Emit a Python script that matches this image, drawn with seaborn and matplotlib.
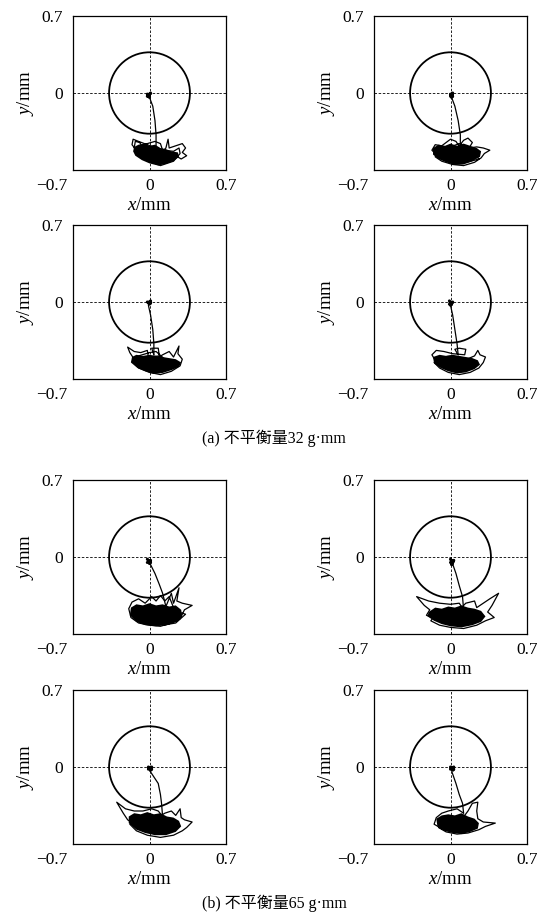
import matplotlib
matplotlib.use("Agg")
import matplotlib.pyplot as plt
from matplotlib.patches import Circle
from matplotlib.transforms import ScaledTranslation
import seaborn as sns
import pandas as pd

# ---------------- data ----------------
limit = 0.7
x_tick_values = [-0.7, 0, 0.7]
x_tick_labels = ["\u22120.7", "0", "0.7"]
y_tick_values = [-0.7, 0, 0.7]
y_tick_labels = ["", "0", "0.7"]
clearance_radius = 0.37

captions = ["(a) 不平衡量32 g·mm", "(b) 不平衡量65 g·mm"]

# start points (small blob near the centre)
dot_a1_x = [-0.02, 0.0, -0.01, 0.01, -0.02]
dot_a1_y = [-0.01, -0.04, -0.03, 0.0, -0.03]
dot_a2_x = [0.0, 0.02, 0.01, 0.02, 0.0]
dot_a2_y = [-0.01, -0.03, -0.04, 0.0, -0.03]
dot_a3_x = [-0.02, 0.01, 0.0, 0.01, -0.01]
dot_a3_y = [0.0, -0.01, -0.02, 0.01, -0.01]
dot_a4_x = [-0.01, 0.01, 0.0, 0.02, -0.01]
dot_a4_y = [0.01, -0.02, -0.03, 0.0, -0.02]
dot_b1_x = [-0.02, 0.01, 0.0, 0.01, -0.02]
dot_b1_y = [-0.02, -0.05, -0.06, -0.03, -0.05]
dot_b2_x = [0.0, 0.02, 0.01, 0.03, 0.0]
dot_b2_y = [-0.02, -0.05, -0.07, -0.03, -0.05]
dot_b3_x = [-0.01, 0.02, 0.01, 0.02, -0.01]
dot_b3_y = [0.0, -0.02, -0.03, 0.0, -0.02]
dot_b4_x = [0.0, 0.03, 0.02, 0.03, 0.0]
dot_b4_y = [0.0, -0.02, -0.03, 0.0, -0.02]

# transient paths from centre to the orbit
path_a1_x = [0.0, 0.03, 0.05, 0.06, 0.06]
path_a1_y = [-0.04, -0.12, -0.25, -0.38, -0.50]
path_a2_x = [0.01, 0.04, 0.07, 0.09, 0.09]
path_a2_y = [-0.04, -0.12, -0.25, -0.38, -0.50]
path_a3_x = [-0.01, 0.01, 0.03, 0.04, 0.04]
path_a3_y = [-0.03, -0.12, -0.25, -0.38, -0.48]
path_a4_x = [0.0, 0.02, 0.04, 0.06, 0.07]
path_a4_y = [-0.03, -0.12, -0.25, -0.38, -0.48]
path_b1_x = [0.0, 0.05, 0.09, 0.12, 0.15]
path_b1_y = [-0.05, -0.15, -0.25, -0.33, -0.45]
path_b2_x = [0.015, 0.05, 0.08, 0.11, 0.12]
path_b2_y = [-0.05, -0.15, -0.26, -0.36, -0.48]
path_b3_x = [0.0, 0.08, 0.10, 0.11, 0.12]
path_b3_y = [-0.03, -0.15, -0.25, -0.33, -0.45]
path_b4_x = [0.015, 0.05, 0.08, 0.11, 0.12]
path_b4_y = [-0.05, -0.15, -0.25, -0.33, -0.42]

# saturated (overdrawn) core of each orbit
core_a1_x = [-0.14, -0.10, -0.05, 0.00, 0.05, 0.10, 0.15, 0.20, 0.26, 0.27, 0.22, 0.15, 0.08, 0.00, -0.07, -0.13, -0.15]
core_a1_y = [-0.49, -0.47, -0.46, -0.48, -0.47, -0.50, -0.51, -0.53, -0.54, -0.58, -0.62, -0.645, -0.66, -0.64, -0.61, -0.57, -0.53]
core_a2_x = [-0.16, -0.11, -0.05, 0.00, 0.06, 0.12, 0.18, 0.24, 0.28, 0.27, 0.20, 0.12, 0.04, -0.04, -0.11, -0.16]
core_a2_y = [-0.50, -0.47, -0.48, -0.46, -0.48, -0.46, -0.48, -0.50, -0.53, -0.58, -0.62, -0.65, -0.655, -0.63, -0.60, -0.56]
core_a3_x = [-0.16, -0.12, -0.06, 0.00, 0.06, 0.12, 0.18, 0.24, 0.29, 0.27, 0.20, 0.12, 0.04, -0.04, -0.11, -0.17]
core_a3_y = [-0.50, -0.48, -0.49, -0.48, -0.49, -0.50, -0.51, -0.52, -0.55, -0.59, -0.62, -0.645, -0.655, -0.63, -0.60, -0.55]
core_a4_x = [-0.16, -0.10, -0.04, 0.02, 0.08, 0.14, 0.20, 0.25, 0.27, 0.22, 0.14, 0.06, -0.02, -0.09, -0.15]
core_a4_y = [-0.50, -0.48, -0.49, -0.48, -0.49, -0.50, -0.51, -0.53, -0.57, -0.61, -0.64, -0.65, -0.63, -0.60, -0.56]
core_b1_x = [-0.17, -0.12, -0.06, 0.00, 0.06, 0.12, 0.18, 0.24, 0.29, 0.30, 0.25, 0.16, 0.06, -0.04, -0.12, -0.18]
core_b1_y = [-0.46, -0.43, -0.44, -0.42, -0.44, -0.43, -0.45, -0.44, -0.48, -0.54, -0.59, -0.62, -0.63, -0.62, -0.59, -0.53]
core_b2_x = [-0.20, -0.14, -0.08, -0.02, 0.04, 0.10, 0.16, 0.22, 0.28, 0.32, 0.28, 0.20, 0.10, 0.00, -0.08, -0.15, -0.21]
core_b2_y = [-0.50, -0.46, -0.47, -0.45, -0.46, -0.44, -0.46, -0.47, -0.49, -0.54, -0.59, -0.62, -0.64, -0.63, -0.61, -0.58, -0.54]
core_b3_x = [-0.19, -0.14, -0.08, -0.02, 0.04, 0.10, 0.16, 0.22, 0.27, 0.29, 0.24, 0.15, 0.05, -0.04, -0.12, -0.19]
core_b3_y = [-0.45, -0.42, -0.43, -0.41, -0.43, -0.42, -0.45, -0.46, -0.49, -0.54, -0.59, -0.62, -0.62, -0.60, -0.57, -0.51]
core_b4_x = [-0.13, -0.08, -0.02, 0.04, 0.10, 0.16, 0.22, 0.26, 0.25, 0.18, 0.10, 0.02, -0.06, -0.12]
core_b4_y = [-0.47, -0.44, -0.43, -0.44, -0.42, -0.45, -0.47, -0.51, -0.56, -0.59, -0.61, -0.60, -0.58, -0.54]

# orbit loops around / over the core
orbit_a1_x = [0.06, -0.02, -0.10, -0.15, -0.16, -0.12, -0.06, -0.09, -0.13, -0.14, -0.08, 0.02, 0.10, 0.15, 0.17, 0.18, 0.24, 0.30, 0.33, 0.30, 0.34, 0.29, 0.24, 0.20, 0.12, 0.04, -0.05, -0.12, -0.10, -0.02, 0.05, 0.10, 0.12, 0.22, 0.27, 0.28, 0.22, 0.10, 0.00, -0.08]
orbit_a1_y = [-0.50, -0.47, -0.44, -0.42, -0.47, -0.52, -0.50, -0.45, -0.44, -0.50, -0.56, -0.58, -0.55, -0.50, -0.42, -0.50, -0.48, -0.46, -0.50, -0.54, -0.57, -0.60, -0.57, -0.60, -0.64, -0.63, -0.60, -0.55, -0.49, -0.46, -0.44, -0.46, -0.52, -0.53, -0.50, -0.55, -0.62, -0.66, -0.62, -0.58]
orbit_a2_x = [0.09, 0.05, 0.00, -0.04, -0.08, -0.14, -0.17, -0.12, -0.04, 0.05, 0.12, 0.16, 0.20, 0.17, 0.24, 0.30, 0.36, 0.31, 0.28, 0.22, 0.12, 0.02, -0.08, -0.14, -0.10, 0.00, 0.08, 0.14, 0.22, 0.26, 0.15, 0.05, -0.05]
orbit_a2_y = [-0.50, -0.44, -0.42, -0.45, -0.48, -0.47, -0.52, -0.57, -0.56, -0.52, -0.43, -0.41, -0.45, -0.50, -0.49, -0.50, -0.52, -0.55, -0.59, -0.63, -0.66, -0.65, -0.62, -0.58, -0.51, -0.49, -0.46, -0.48, -0.55, -0.60, -0.63, -0.60, -0.58]
orbit_a3_x = [0.04, 0.02, 0.08, 0.09, -0.01, -0.02, -0.08, -0.14, -0.20, -0.18, -0.14, -0.06, 0.04, 0.12, 0.18, 0.22, 0.27, 0.26, 0.30, 0.28, 0.20, 0.10, 0.00, -0.10, -0.16, -0.10, 0.00, 0.06, 0.14, 0.24, 0.18, 0.05]
orbit_a3_y = [-0.48, -0.42, -0.42, -0.49, -0.50, -0.44, -0.46, -0.45, -0.41, -0.46, -0.52, -0.55, -0.53, -0.48, -0.45, -0.50, -0.40, -0.47, -0.52, -0.58, -0.63, -0.66, -0.64, -0.60, -0.54, -0.49, -0.46, -0.45, -0.52, -0.55, -0.60, -0.62]
orbit_a4_x = [0.07, 0.04, 0.08, 0.14, 0.13, 0.02, -0.06, -0.13, -0.17, -0.14, -0.05, 0.05, 0.15, 0.22, 0.25, 0.27, 0.32, 0.30, 0.26, 0.18, 0.08, -0.02, -0.10, -0.15, -0.08, 0.02, 0.12, 0.22, 0.18, 0.04]
orbit_a4_y = [-0.48, -0.43, -0.42, -0.43, -0.48, -0.47, -0.45, -0.44, -0.48, -0.53, -0.54, -0.52, -0.52, -0.49, -0.44, -0.48, -0.50, -0.55, -0.60, -0.64, -0.66, -0.64, -0.60, -0.55, -0.50, -0.49, -0.55, -0.56, -0.61, -0.60]
orbit_b1_x = [0.15, 0.20, 0.22, 0.27, 0.25, 0.30, 0.39, 0.32, 0.28, 0.20, 0.10, 0.00, -0.10, -0.17, -0.19, -0.16, -0.10, -0.04, 0.02, 0.06, 0.10, 0.14, 0.18, 0.22, 0.12, 0.00, -0.12, -0.08, 0.05, 0.18, 0.26, 0.33, 0.24, 0.12]
orbit_b1_y = [-0.45, -0.33, -0.42, -0.28, -0.40, -0.42, -0.44, -0.48, -0.56, -0.60, -0.63, -0.62, -0.60, -0.55, -0.47, -0.41, -0.38, -0.42, -0.36, -0.40, -0.35, -0.40, -0.36, -0.46, -0.50, -0.46, -0.48, -0.55, -0.58, -0.56, -0.50, -0.52, -0.60, -0.62]
orbit_b2_x = [0.12, 0.08, 0.00, -0.10, -0.20, -0.31, -0.24, -0.19, -0.22, -0.14, -0.04, 0.06, 0.14, 0.22, 0.24, 0.30, 0.36, 0.44, 0.38, 0.34, 0.40, 0.32, 0.24, 0.12, 0.00, -0.10, -0.18, -0.12, 0.00, 0.18, 0.28, 0.22, 0.08]
orbit_b2_y = [-0.48, -0.42, -0.43, -0.42, -0.40, -0.36, -0.44, -0.48, -0.53, -0.56, -0.52, -0.50, -0.42, -0.40, -0.46, -0.42, -0.38, -0.33, -0.44, -0.50, -0.55, -0.58, -0.62, -0.65, -0.64, -0.62, -0.58, -0.50, -0.48, -0.50, -0.53, -0.58, -0.60]
orbit_b3_x = [0.12, 0.08, 0.02, -0.06, -0.14, -0.22, -0.30, -0.24, -0.20, -0.14, -0.04, 0.06, 0.14, 0.20, 0.24, 0.28, 0.29, 0.32, 0.39, 0.34, 0.30, 0.22, 0.10, -0.02, -0.12, -0.18, -0.10, 0.02, 0.16, 0.26, 0.18, 0.04]
orbit_b3_y = [-0.45, -0.40, -0.38, -0.40, -0.40, -0.38, -0.32, -0.42, -0.48, -0.52, -0.50, -0.47, -0.42, -0.40, -0.44, -0.38, -0.46, -0.48, -0.50, -0.55, -0.58, -0.62, -0.64, -0.62, -0.58, -0.52, -0.46, -0.45, -0.50, -0.55, -0.59, -0.58]
orbit_b4_x = [0.12, 0.06, -0.02, -0.08, -0.13, -0.15, -0.08, 0.02, 0.10, 0.16, 0.20, 0.25, 0.24, 0.25, 0.30, 0.41, 0.32, 0.26, 0.16, 0.06, -0.04, -0.11, -0.06, 0.04, 0.14, 0.22, 0.12]
orbit_b4_y = [-0.42, -0.38, -0.40, -0.42, -0.46, -0.52, -0.56, -0.52, -0.48, -0.40, -0.33, -0.32, -0.40, -0.47, -0.50, -0.51, -0.54, -0.57, -0.60, -0.61, -0.59, -0.55, -0.48, -0.46, -0.50, -0.54, -0.57]

panels = [
    (dot_a1_x, dot_a1_y, path_a1_x, path_a1_y, core_a1_x, core_a1_y, orbit_a1_x, orbit_a1_y),
    (dot_a2_x, dot_a2_y, path_a2_x, path_a2_y, core_a2_x, core_a2_y, orbit_a2_x, orbit_a2_y),
    (dot_a3_x, dot_a3_y, path_a3_x, path_a3_y, core_a3_x, core_a3_y, orbit_a3_x, orbit_a3_y),
    (dot_a4_x, dot_a4_y, path_a4_x, path_a4_y, core_a4_x, core_a4_y, orbit_a4_x, orbit_a4_y),
    (dot_b1_x, dot_b1_y, path_b1_x, path_b1_y, core_b1_x, core_b1_y, orbit_b1_x, orbit_b1_y),
    (dot_b2_x, dot_b2_y, path_b2_x, path_b2_y, core_b2_x, core_b2_y, orbit_b2_x, orbit_b2_y),
    (dot_b3_x, dot_b3_y, path_b3_x, path_b3_y, core_b3_x, core_b3_y, orbit_b3_x, orbit_b3_y),
    (dot_b4_x, dot_b4_y, path_b4_x, path_b4_y, core_b4_x, core_b4_y, orbit_b4_x, orbit_b4_y),
]

# ---------------- style ----------------
sns.set_theme(style="white")
plt.rcParams["font.family"] = ["Liberation Serif", "Noto Sans CJK SC", "DejaVu Sans"]
plt.rcParams["mathtext.fontset"] = "custom"
plt.rcParams["mathtext.rm"] = "Liberation Serif"
plt.rcParams["mathtext.it"] = "Liberation Serif:italic"
plt.rcParams["axes.unicode_minus"] = True

W, H = 544, 918
fig = plt.figure(figsize=(W / 100, H / 100), dpi=100)
fig.patch.set_facecolor("white")

col_left = [73, 374]
row_top = [16, 225, 480, 690]
aw, ah = 153, 154


def line(ax, xs, ys, lw):
    df = pd.DataFrame({"x": xs, "y": ys})
    sns.lineplot(data=df, x="x", y="y", sort=False, estimator=None,
                 color="black", lw=lw, ax=ax, legend=False)


for i, (dx, dy, px, py, cx, cy, ox, oy) in enumerate(panels):
    r, c = divmod(i, 2)
    l = col_left[c] / W
    b = 1 - (row_top[r] + ah) / H
    ax = fig.add_axes([l, b, aw / W, ah / H])
    ax.set_facecolor("white")
    ax.axhline(0, color="black", lw=0.6, ls=(0, (3, 2)), zorder=1)
    ax.axvline(0, color="black", lw=0.6, ls=(0, (3, 2)), zorder=1)
    ax.add_patch(Circle((0, 0), clearance_radius, fill=False, ec="black", lw=1.3, zorder=2))
    ax.fill(cx, cy, color="black", lw=0, zorder=2)
    line(ax, ox, oy, 0.9)
    line(ax, px, py, 0.9)
    line(ax, dx, dy, 2.2)
    ax.set_xlim(-limit, limit)
    ax.set_ylim(-limit, limit)
    ax.set_xticks(x_tick_values)
    ax.set_xticklabels(x_tick_labels)
    ax.set_yticks(y_tick_values)
    ax.set_yticklabels(y_tick_labels)
    ax.tick_params(axis="x", length=0, labelsize=12.5, pad=6, colors="black")
    ax.tick_params(axis="y", length=0, labelsize=12.5, pad=7, colors="black")
    corner = ax.get_xticklabels()[0]
    corner.set_transform(corner.get_transform() + ScaledTranslation(-21 / 100, 0, fig.dpi_scale_trans))
    for s in ax.spines.values():
        s.set_color("black")
        s.set_linewidth(0.9)
    ax.set_xlabel(r"$x$/mm", fontsize=13.5, labelpad=2, color="black")
    ax.set_ylabel(r"$y$/mm", fontsize=13.5, labelpad=4, color="black")

fig.text(274 / W, 1 - 438 / H, captions[0], ha="center", va="center", fontsize=11.5, color="black")
fig.text(274 / W, 1 - 903 / H, captions[1], ha="center", va="center", fontsize=11.5, color="black")

fig.savefig("out.png", dpi=100, facecolor="white")
